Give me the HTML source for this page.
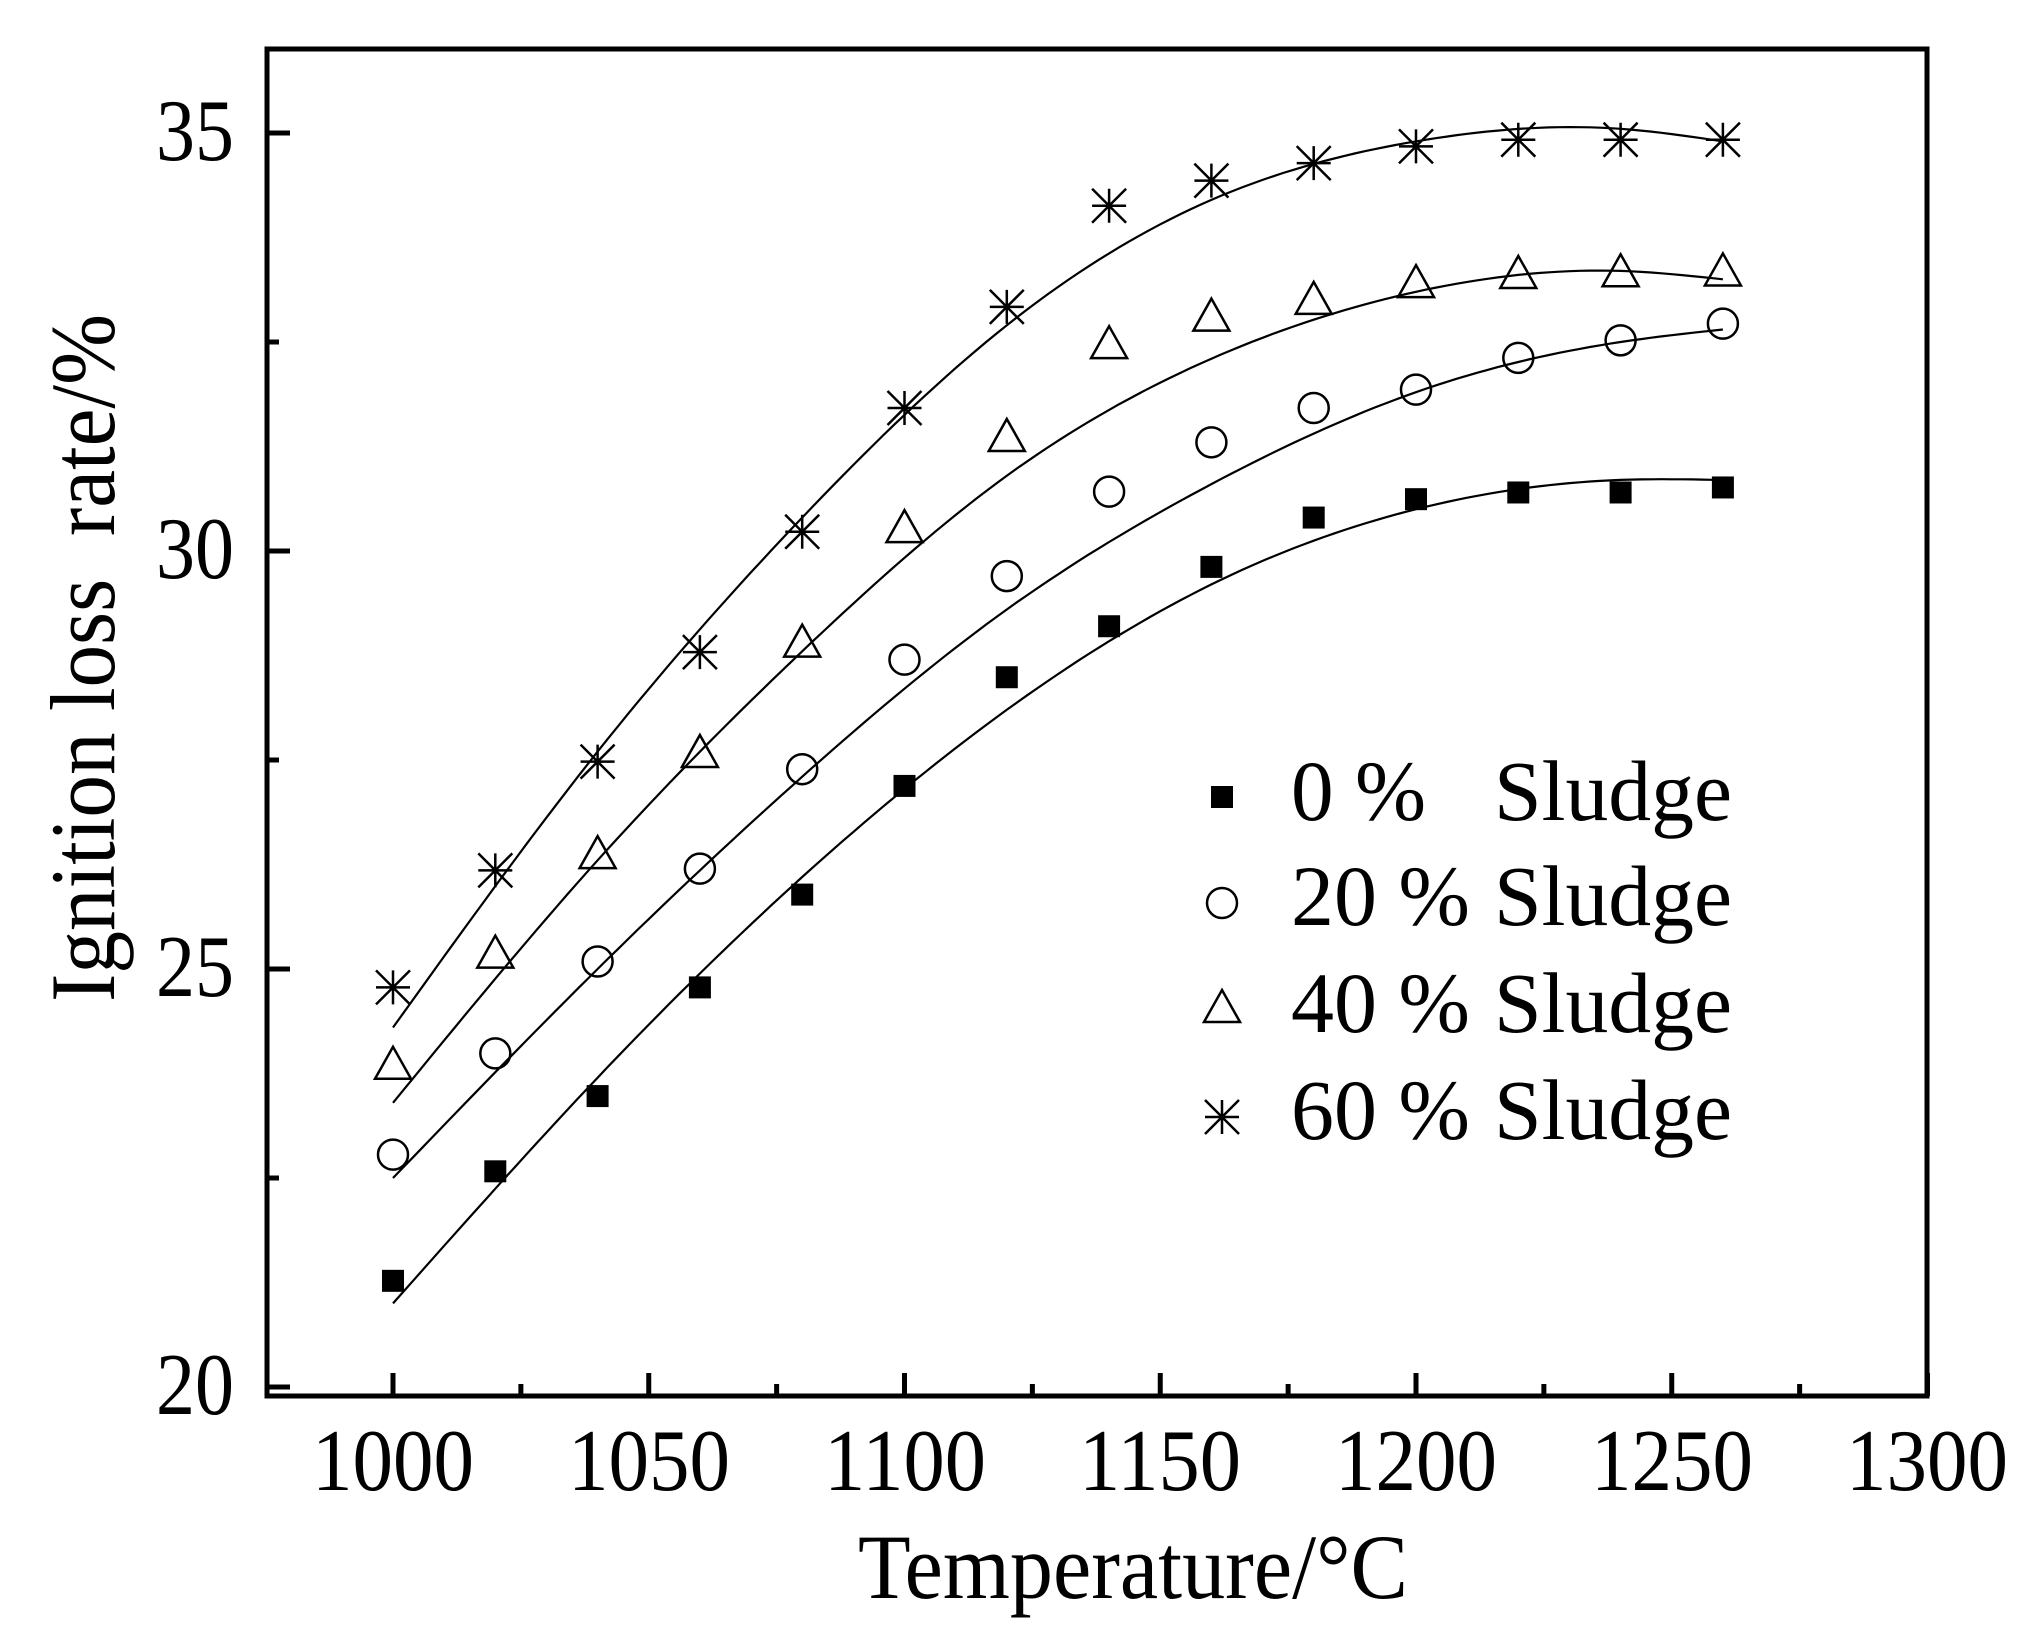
<!DOCTYPE html>
<html><head><meta charset="utf-8"><style>
html,body{margin:0;padding:0;background:#fff}
svg{display:block}
text{font-family:"Liberation Serif",serif;fill:#000}
</style></head><body>
<svg id="s" width="2044" height="1632" xmlns="http://www.w3.org/2000/svg">
<rect width="2044" height="1632" fill="#fff"/>
<g id="plot"></g>
<rect x="267" y="49" width="1660" height="1347" fill="none" stroke="#000" stroke-width="5"/>
<g font-size="88" text-anchor="end">
<text x="234" y="160" textLength="78" lengthAdjust="spacingAndGlyphs">35</text>
<text x="234" y="578" textLength="78" lengthAdjust="spacingAndGlyphs">30</text>
<text x="234" y="996" textLength="78" lengthAdjust="spacingAndGlyphs">25</text>
<text x="234" y="1414" textLength="78" lengthAdjust="spacingAndGlyphs">20</text>
</g>
<g font-size="88">
<text x="312" y="1490" textLength="162" lengthAdjust="spacingAndGlyphs">1000</text>
<text x="568" y="1490" textLength="162" lengthAdjust="spacingAndGlyphs">1050</text>
<text x="824" y="1490" textLength="162" lengthAdjust="spacingAndGlyphs">1100</text>
<text x="1079" y="1490" textLength="162" lengthAdjust="spacingAndGlyphs">1150</text>
<text x="1335" y="1490" textLength="162" lengthAdjust="spacingAndGlyphs">1200</text>
<text x="1591" y="1490" textLength="162" lengthAdjust="spacingAndGlyphs">1250</text>
<text x="1846" y="1490" textLength="162" lengthAdjust="spacingAndGlyphs">1300</text>
</g>
<text x="858" y="1598" font-size="92" textLength="550" lengthAdjust="spacingAndGlyphs">Temperature/°C</text>
<text transform="translate(114,1002) rotate(-90)" font-size="92" textLength="688" lengthAdjust="spacingAndGlyphs" xml:space="preserve">Ignition loss  rate/%</text>
<g font-size="86">
<text x="1291" y="820" textLength="135" lengthAdjust="spacingAndGlyphs">0 %</text><text x="1494" y="820" textLength="238" lengthAdjust="spacingAndGlyphs">Sludge</text>
<text x="1291" y="925" textLength="179" lengthAdjust="spacingAndGlyphs">20 %</text><text x="1494" y="925" textLength="238" lengthAdjust="spacingAndGlyphs">Sludge</text>
<text x="1291" y="1032" textLength="179" lengthAdjust="spacingAndGlyphs">40 %</text><text x="1494" y="1032" textLength="238" lengthAdjust="spacingAndGlyphs">Sludge</text>
<text x="1291" y="1139" textLength="179" lengthAdjust="spacingAndGlyphs">60 %</text><text x="1494" y="1139" textLength="238" lengthAdjust="spacingAndGlyphs">Sludge</text>
</g>
</svg>
<script>
var NS="http://www.w3.org/2000/svg",g=document.getElementById("plot");
function X(t){return 393+(t-1000)*5.115}
function Y(v){return 133+(35-v)*83.6}
function el(n,a){var e=document.createElementNS(NS,n);for(var k in a)e.setAttribute(k,a[k]);g.appendChild(e);return e}
for(var t=1000;t<=1300;t+=25){var maj=(t%50==0);el("line",{x1:X(t),x2:X(t),y1:1396,y2:1396-(maj?23:12),stroke:"#000","stroke-width":5})}
for(var v=20;v<=35;v+=2.5){var maj=(v%5==0);el("line",{x1:267,x2:267+(maj?23:12),y1:Y(v),y2:Y(v),stroke:"#000","stroke-width":5})}
var T=[];for(var i=0;i<14;i++)T.push(1000+20*i);
var D=[
[21.27,22.58,23.48,24.78,25.89,27.19,28.49,29.10,29.81,30.40,30.62,30.70,30.70,30.76],
[22.78,23.99,25.09,26.20,27.39,28.70,29.70,30.71,31.30,31.71,31.93,32.31,32.52,32.72],
[23.83,25.16,26.35,27.56,28.88,30.25,31.34,32.45,32.78,32.98,33.18,33.29,33.31,33.32],
[24.78,26.18,27.48,28.79,30.23,31.71,32.92,34.13,34.43,34.64,34.84,34.92,34.92,34.92]];
var K=[1000,1040,1080,1120,1160,1200,1240,1260];
var C=[
[21.0,23.7,26.1,28.1,29.6,30.5,30.85,30.85],
[22.5,25.0,27.3,29.3,30.8,31.9,32.5,32.65],
[23.4,26.3,28.8,30.9,32.3,33.1,33.35,33.25],
[24.3,27.6,30.4,32.7,34.2,34.9,35.05,34.9]];
function spline(x,y){var n=x.length,h=[],a=[],l=[1],mu=[0],z=[0],c=new Array(n).fill(0),b=[],d=[];
for(var i=0;i<n-1;i++)h.push(x[i+1]-x[i]);
for(var i=1;i<n-1;i++)a[i]=3/h[i]*(y[i+1]-y[i])-3/h[i-1]*(y[i]-y[i-1]);
for(var i=1;i<n-1;i++){l[i]=2*(x[i+1]-x[i-1])-h[i-1]*mu[i-1];mu[i]=h[i]/l[i];z[i]=(a[i]-h[i-1]*z[i-1])/l[i]}
for(var j=n-2;j>=0;j--){c[j]=(z[j]||0)-mu[j]*c[j+1];b[j]=(y[j+1]-y[j])/h[j]-h[j]*(c[j+1]+2*c[j])/3;d[j]=(c[j+1]-c[j])/(3*h[j])}
return function(t){var i=0;while(i<n-2&&t>x[i+1])i++;var u=t-x[i];return y[i]+b[i]*u+c[i]*u*u+d[i]*u*u*u}}
for(var s=0;s<4;s++){var f=spline(K,C[s]),p="";for(var t=1000;t<=1260;t+=2)p+=(t==1000?"M":"L")+X(t).toFixed(1)+","+Y(f(t)).toFixed(1);
el("path",{d:p,fill:"none",stroke:"#000","stroke-width":2.2})}
function mk(s,x,y){
if(s==0)el("rect",{x:x-11,y:y-11,width:22,height:22,fill:"#000"});
else if(s==1)el("circle",{cx:x,cy:y,r:15,fill:"none",stroke:"#000","stroke-width":2.5});
else if(s==2)el("path",{d:"M"+x+","+(y-20)+"L"+(x+18)+","+(y+12)+"L"+(x-18)+","+(y+12)+"Z",fill:"none",stroke:"#000","stroke-width":2.5});
else{el("path",{d:"M"+x+","+(y-17)+"V"+(y+17)+"M"+(x-17)+","+y+"H"+(x+17)+"M"+(x-17)+","+(y-17)+"L"+(x+17)+","+(y+17)+"M"+(x+17)+","+(y-17)+"L"+(x-17)+","+(y+17),stroke:"#000","stroke-width":2.5,fill:"none"})}}
for(var s=0;s<4;s++)for(var i=0;i<14;i++)mk(s,X(T[i]),Y(D[s][i]));
mk(0,1222,797);mk(1,1222,903);mk(2,1222,1010);mk(3,1222,1117);
</script>
</body></html>
